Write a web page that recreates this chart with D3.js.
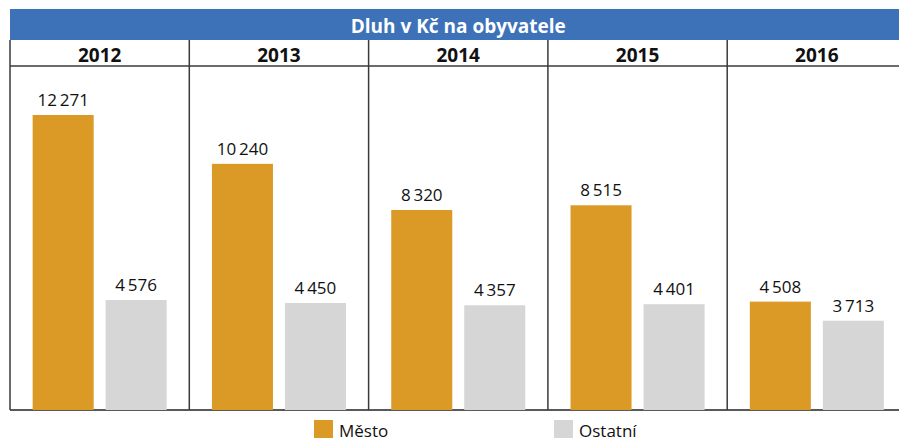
<!DOCTYPE html>
<html>
<head>
<meta charset="utf-8">
<script src="https://cdn.jsdelivr.net/npm/d3@7"></script>
<style>
    body { margin: 0; background: #fff; }
    svg { display: block; font-family: "Open Sans", "Noto Sans", sans-serif; }
</style>
</head>
<body>
<div id="chart"></div>
<script>
// data
var years = ["2012", "2013", "2014", "2015", "2016"];
var series = ["Město", "Ostatní"];
var mesto = [12271, 10240, 8320, 8515, 4508];
var ostatni = [4576, 4450, 4357, 4401, 3713];
var title = "Dluh v Kč na obyvatele";
var colors = ["#db9a26", "#d6d6d6"];

var width = 899, height = 438;
var left = 10, colW = 179.3;
var headTop = 9, headBottom = 40, yearBottom = 66, base = 410;

var svg = d3.select("#chart").append("svg")
    .attr("width", width).attr("height", height);

// dataset per year
var dataset = years.map(function(y, i) {
    return { year: y, values: [mesto[i], ostatni[i]] };
});

// scales
var xScale = d3.scaleBand()
    .domain(years)
    .range([left, left + colW * years.length]);

var xInner = d3.scaleBand()
    .domain(series)
    .range([0, colW])
    .paddingInner(0.164)
    .paddingOuter(0.31);

var yScale = d3.scaleLinear()
    .domain([0, 12271])
    .range([base, 115]);

// blue header
svg.append("rect")
    .attr("x", left).attr("y", headTop)
    .attr("width", width - left).attr("height", headBottom - headTop)
    .attr("fill", "#3d72b9");

svg.append("text")
    .attr("x", left + colW * years.length / 2)
    .attr("y", 33)
    .attr("text-anchor", "middle")
    .attr("fill", "#fff")
    .style("font-size", "19px")
    .style("font-weight", "bold")
    .text(title);

// grid lines
svg.append("line")
    .attr("x1", left).attr("x2", width)
    .attr("y1", yearBottom).attr("y2", yearBottom)
    .attr("stroke", "#3a3a3a").attr("stroke-width", 1.5);

svg.append("line")
    .attr("x1", left).attr("x2", width)
    .attr("y1", base).attr("y2", base)
    .attr("stroke", "#222").attr("stroke-width", 1.5);

svg.selectAll(".divider")
    .data(years).enter().append("line")
    .attr("class", "divider")
    .attr("x1", function(d) { return xScale(d); })
    .attr("x2", function(d) { return xScale(d); })
    .attr("y1", headBottom).attr("y2", base)
    .attr("stroke", "#3a3a3a").attr("stroke-width", 1.5);

// columns
var cols = svg.selectAll(".col")
    .data(dataset).enter().append("g")
    .attr("class", "col")
    .attr("transform", function(d) { return "translate(" + xScale(d.year) + ",0)"; });

cols.append("text")
    .attr("x", colW / 2)
    .attr("y", 62)
    .attr("text-anchor", "middle")
    .attr("fill", "#111")
    .style("font-size", "19px")
    .style("font-weight", "bold")
    .text(function(d) { return d.year; });

var fmt = function(v) { return d3.format(",")(v).replace(",", "\u2009"); };

var bars = cols.selectAll(".bar")
    .data(function(d) { return d.values.map(function(v, i) { return { s: series[i], v: v, c: colors[i] }; }); })
    .enter();

bars.append("rect")
    .attr("x", function(d) { return xInner(d.s); })
    .attr("y", function(d) { return yScale(d.v); })
    .attr("width", xInner.bandwidth())
    .attr("height", function(d) { return base - yScale(d.v); })
    .attr("fill", function(d) { return d.c; });

bars.append("text")
    .attr("x", function(d) { return xInner(d.s) + xInner.bandwidth() / 2; })
    .attr("y", function(d) { return yScale(d.v) - 9; })
    .attr("text-anchor", "middle")
    .attr("fill", "#111")
    .style("font-size", "17px")
    .text(function(d) { return fmt(d.v); });

// legend
var legendX = [314, 554];
var legend = svg.selectAll(".legend")
    .data(series).enter().append("g")
    .attr("class", "legend")
    .attr("transform", function(d, i) { return "translate(" + legendX[i] + ",420)"; });

legend.append("rect")
    .attr("width", 19).attr("height", 19)
    .attr("fill", function(d, i) { return colors[i]; });

legend.append("text")
    .attr("x", 25).attr("y", 17)
    .attr("fill", "#111")
    .style("font-size", "17px")
    .text(function(d) { return d; });
</script>
</body>
</html>
